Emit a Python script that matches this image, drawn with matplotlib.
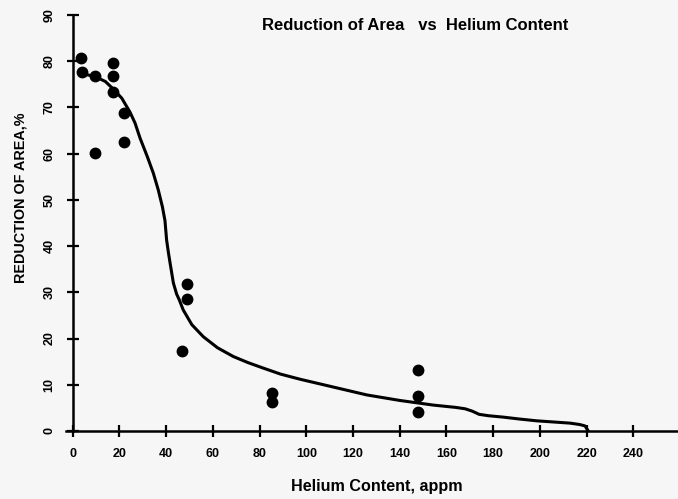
import numpy as np
import matplotlib
matplotlib.use("Agg")
import matplotlib.pyplot as plt

plt.rcParams['font.family'] = ['Liberation Sans', 'DejaVu Sans']

# measured points, helium content (appm) vs reduction of area (%)
he_pts = [3.7, 4.1, 9.7, 9.4, 17.3, 17.3, 17.3, 22.0, 22.0,
          46.7, 49.1, 49.1, 85.3, 85.3, 148.0, 148.0, 148.0]
ra_pts = [80.7, 77.6, 76.8, 60.1, 79.6, 76.8, 73.4, 68.9, 62.6,
          17.3, 31.7, 28.6, 8.2, 6.3, 13.2, 7.6, 4.0]

# hand-drawn trend curve
curve_x = [4.0, 9.5, 14.0, 17.3, 21.0, 24.5, 26.7, 28.8, 31.9, 34.5, 36.6,
           38.4, 39.5, 40.2, 41.0, 41.7, 43.1, 44.5, 45.6, 47.3, 51.0, 55.9,
           62.0, 68.8, 75.0, 81.6, 89.0, 97.3, 111.6, 125.9, 140.1, 154.4,
           164.0, 168.0, 171.0, 174.0, 178.0, 184.3, 191.0, 198.6, 212.9,
           217.0, 219.3, 220.7]
curve_y = [77.3, 76.7, 75.6, 74.0, 72.0, 69.0, 66.6, 63.4, 59.4, 55.8, 52.2,
           48.5, 45.5, 41.3, 38.5, 36.3, 32.0, 29.6, 28.4, 26.2, 23.0, 20.4,
           18.0, 16.1, 14.8, 13.6, 12.3, 11.2, 9.5, 7.8, 6.6, 5.6,
           5.1, 4.8, 4.3, 3.6, 3.3, 3.0, 2.6, 2.2, 1.7,
           1.4, 1.1, 0.0]

x_ticks = list(range(0, 241, 20))
y_ticks = list(range(0, 91, 10))

bg = '#f6f6f6'
fig = plt.figure(figsize=(6.78, 4.99), dpi=100, facecolor=bg)
ax = fig.add_axes([0.0969, 0.1363, 0.9027, 0.8337], facecolor=bg)

ax.plot(curve_x, curve_y, color='black', lw=2.2, solid_capstyle='round',
        solid_joinstyle='round')
ax.plot(he_pts, ra_pts, 'o', color='black', ms=7.5)

ax.set_xlim(-3, 259)
ax.set_ylim(0, 90)
ax.set_xticks(x_ticks)
ax.set_yticks(y_ticks)

for s in ['top', 'right']:
    ax.spines[s].set_visible(False)
ax.spines['left'].set_position(('data', 0))
ax.spines['left'].set_bounds(0, 90)
for s in ['left', 'bottom']:
    ax.spines[s].set_linewidth(1.8)

ax.tick_params(direction='inout', length=9, width=1.6)
ax.tick_params(axis='x', pad=8, labelsize=9)
ax.tick_params(axis='y', pad=8, labelsize=9)
for lab in ax.get_xticklabels():
    lab.set_fontweight('bold')
for lab in ax.get_yticklabels():
    lab.set_fontweight('bold')
    lab.set_rotation(90)
    lab.set_va('center')

fig.text(415 / 678, 1 - 25 / 499, 'Reduction of Area   vs  Helium Content',
         ha='center', va='center', fontsize=12, fontweight='bold')
fig.text(377 / 678, 1 - 487 / 499, 'Helium Content, appm',
         ha='center', va='center', fontsize=11.6, fontweight='bold')
fig.text(21 / 678, 1 - 198 / 499, 'REDUCTION OF AREA,%', rotation=90,
         ha='center', va='center', fontsize=10.4, fontweight='bold')

fig.savefig('out.png', dpi=100, facecolor=bg)
